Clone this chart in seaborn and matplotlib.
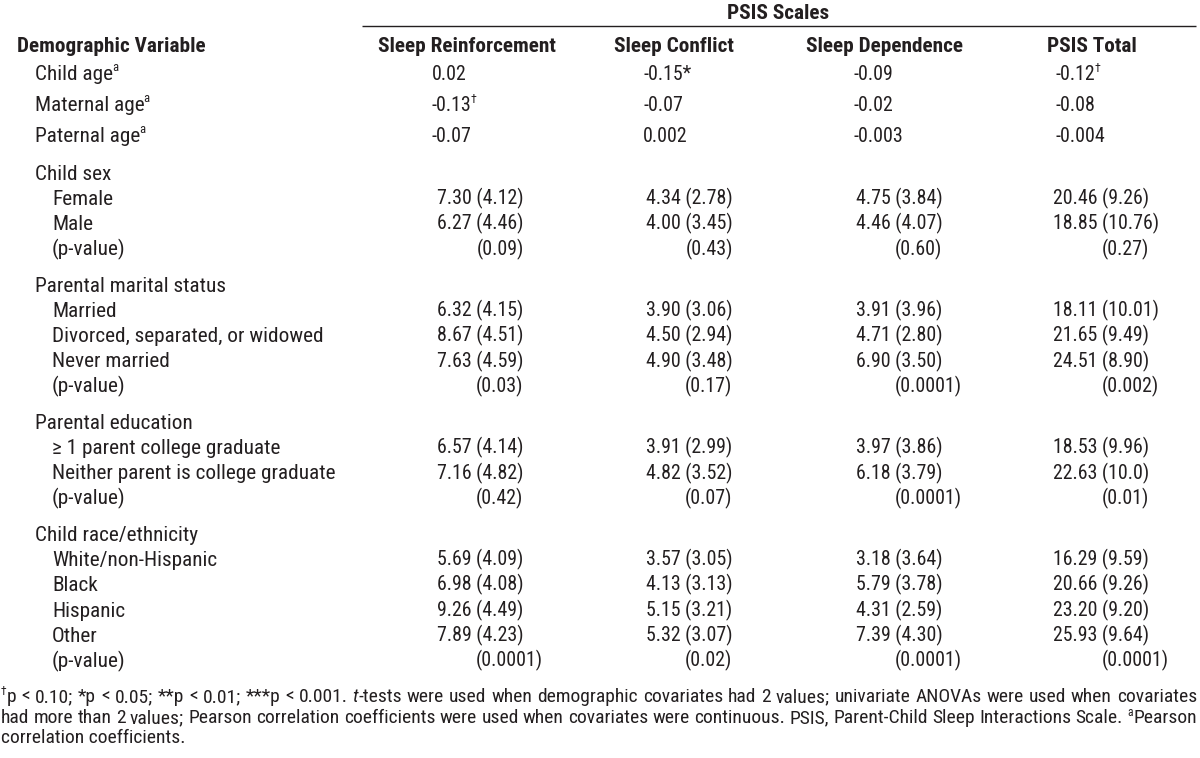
import matplotlib
matplotlib.use('Agg')

import matplotlib.pyplot as plt
from matplotlib import font_manager
import seaborn as sns

# ---- table content ----
scale_names = ["Sleep Reinforcement", "Sleep Conflict", "Sleep Dependence", "PSIS Total"]

corr_labels = ["Child age", "Maternal age", "Paternal age"]
corr_values = [["0.02", "-0.15*", "-0.09", "-0.12"],
               ["-0.13", "-0.07", "-0.02", "-0.08"],
               ["-0.07", "0.002", "-0.003", "-0.004"]]
corr_marks = [["", "", "", "\u2020"],
              ["\u2020", "", "", ""],
              ["", "", "", ""]]

sex_levels = ["Female", "Male"]
sex_means = [["7.30", "4.34", "4.75", "20.46"], ["6.27", "4.00", "4.46", "18.85"]]
sex_sds = [["4.12", "2.78", "3.84", "9.26"], ["4.46", "3.45", "4.07", "10.76"]]
sex_p = ["0.09", "0.43", "0.60", "0.27"]

marital_levels = ["Married", "Divorced, separated, or widowed", "Never married"]
marital_means = [["6.32", "3.90", "3.91", "18.11"],
                 ["8.67", "4.50", "4.71", "21.65"],
                 ["7.63", "4.90", "6.90", "24.51"]]
marital_sds = [["4.15", "3.06", "3.96", "10.01"],
               ["4.51", "2.94", "2.80", "9.49"],
               ["4.59", "3.48", "3.50", "8.90"]]
marital_p = ["0.03", "0.17", "0.0001", "0.002"]

edu_levels = ["\u2265 1 parent college graduate", "Neither parent is college graduate"]
edu_means = [["6.57", "3.91", "3.97", "18.53"], ["7.16", "4.82", "6.18", "22.63"]]
edu_sds = [["4.14", "2.99", "3.86", "9.96"], ["4.82", "3.52", "3.79", "10.0"]]
edu_p = ["0.42", "0.07", "0.0001", "0.01"]

race_levels = ["White/non-Hispanic", "Black", "Hispanic", "Other"]
race_means = [["5.69", "3.57", "3.18", "16.29"],
              ["6.98", "4.13", "5.79", "20.66"],
              ["9.26", "5.15", "4.31", "23.20"],
              ["7.89", "5.32", "7.39", "25.93"]]
race_sds = [["4.09", "3.05", "3.64", "9.59"],
            ["4.08", "3.13", "3.78", "9.26"],
            ["4.49", "3.21", "2.59", "9.20"],
            ["4.23", "3.07", "4.30", "9.64"]]
race_p = ["0.0001", "0.02", "0.0001", "0.0001"]

groups = [("Child sex", sex_levels, sex_means, sex_sds, sex_p),
          ("Parental marital status", marital_levels, marital_means, marital_sds, marital_p),
          ("Parental education", edu_levels, edu_means, edu_sds, edu_p),
          ("Child race/ethnicity", race_levels, race_means, race_sds, race_p)]

# footnote lines, each word is a list of (text, kind) runs
note1 = [[("\u2020", "sup"), ("p", "n")], "<", "0.10;", "*p", "<", "0.05;", "**p", "<", "0.01;",
         "***p", "<", "0.001.", [("t", "i"), ("-tests", "n")], "were", "used", "when", "demographic",
         "covariates", "had", "2", "values;", "univariate", "ANOVAs", "were", "used", "when", "covariates"]
note2 = ["had", "more", "than", "2", "values;", "Pearson", "correlation", "coefficients", "were", "used",
         "when", "covariates", "were", "continuous.", "PSIS,", "Parent-Child", "Sleep", "Interactions",
         "Scale.", [("a", "sup"), ("Pearson", "n")]]
note3 = "correlation coefficients."

# ---- style ----
sns.set_theme(style="white")
available = {f.name for f in font_manager.fontManager.ttflist}
FONT = "Liberation Sans"
for cand in ["Liberation Sans Narrow", "Arial Narrow", "Roboto Condensed", "Liberation Sans"]:
    if cand in available:
        FONT = cand
        break
plt.rcParams['font.family'] = [FONT, 'DejaVu Sans']

INK = "#231f20"
FS_LABEL = 15.3
FS_VALUE = 14.3
FS_NOTE = 14.0

fig = plt.figure(figsize=(12, 7.58), dpi=100)
ax = fig.add_axes([0, 0, 1, 1])
ax.set_xlim(0, 1200)
ax.set_ylim(758, 0)
ax.axis('off')
renderer = fig.canvas.get_renderer()


def wid(t):
    return t.get_window_extent(renderer).width


def put(x, y, s, size=FS_LABEL, weight="normal", ha="left", sup="", style="normal"):
    # y is the visual centre of the line; text sits on a baseline below it
    t = ax.text(x, y + 0.36 * size * 100 / 72, s, fontsize=size, fontweight=weight,
                ha=ha, va="baseline", color=INK, fontstyle=style)
    if sup:
        ax.text(x + wid(t) - 1.0, y - 0.05 * size * 100 / 72, sup, fontsize=size * 0.6,
                ha="left", va="baseline", color=INK)
    return t


# column layout (pixel units)
head_x = [467, 674, 885, 1092]
mean_x = [437, 646, 856, 1053]
corr_x = [432, 643, 853, 1056]
X_TITLE = 17
X_ROW = 35
X_SUB = 52

# header
put(778, 11, "PSIS Scales", weight="bold", ha="center")
ax.plot([362, 1196], [25.5, 25.5], color=INK, lw=1.0, solid_capstyle="butt")
put(X_TITLE, 44, "Demographic Variable", weight="bold")
for name, hx in zip(scale_names, head_x):
    put(hx, 44, name, weight="bold", ha="center")

# correlation rows
y = 72.5
for label, vals, marks in zip(corr_labels, corr_values, corr_marks):
    put(X_ROW, y, label, sup="a")
    for v, m, cx in zip(vals, marks, corr_x):
        put(cx, y, v, size=FS_VALUE, sup=m)
    y += 31
y += 6.5

# grouped rows
STEP = 25.3
GAP = 36
for title, levels, means, sds, pvals in groups:
    put(X_ROW, y, title)
    y += STEP
    for lev, mrow, srow in zip(levels, means, sds):
        put(X_SUB, y, lev)
        for m, s, mx in zip(mrow, srow, mean_x):
            put(mx, y, m + " (" + s + ")", size=FS_VALUE)
        y += STEP
    put(X_SUB, y, "(p-value)")
    for j, (p, mx) in enumerate(zip(pvals, mean_x)):
        probe = ax.text(0, 0, means[0][j] + " ", fontsize=FS_VALUE)
        off = wid(probe)
        probe.remove()
        put(mx + off, y, "(" + p + ")", size=FS_VALUE)
    y += GAP


# footnote, justified across the width
def note_line(words, yc, x0=1, x1=1197):
    runs = []
    widths = []
    for w in words:
        parts = [(w, "n")] if isinstance(w, str) else w
        ww = 0
        arts = []
        for txt, kind in parts:
            size = FS_NOTE * 0.6 if kind == "sup" else FS_NOTE
            t = ax.text(0, 0, txt, fontsize=size, color=INK,
                        fontstyle="italic" if kind == "i" else "normal", va="baseline")
            arts.append((t, kind, ww))
            ww += wid(t) + (0.5 if kind == "sup" else 0)
        runs.append(arts)
        widths.append(ww)
    gap = (x1 - x0 - sum(widths)) / (len(words) - 1)
    x = x0
    base = yc + 0.36 * FS_NOTE * 100 / 72
    for arts, ww in zip(runs, widths):
        for t, kind, dx in arts:
            t.set_position((x + dx, base - (7 if kind == "sup" else 0)))
        x += ww + gap


note_line(note1, 695)
note_line(note2, 716)
put(1, 736, note3, size=FS_NOTE)

fig.savefig("out.png", dpi=100)
